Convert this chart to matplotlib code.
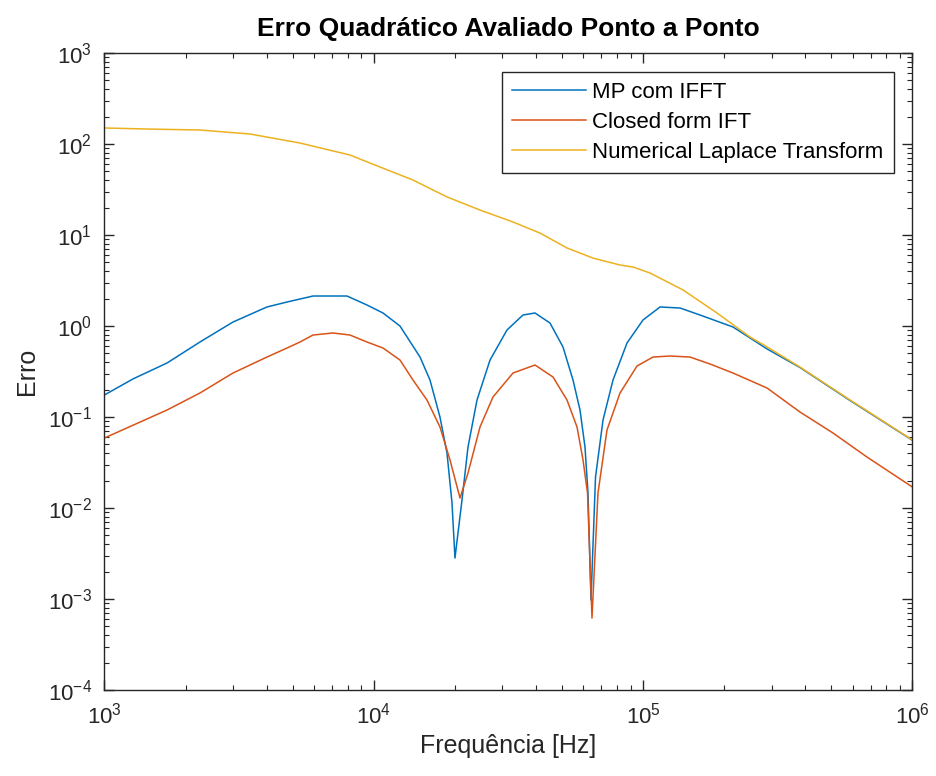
import matplotlib
matplotlib.use("Agg")
import matplotlib.pyplot as plt
from matplotlib.ticker import LogLocator, FixedLocator, NullFormatter

plt.rcParams['font.family'] = ['Liberation Sans', 'DejaVu Sans']
plt.rcParams['mathtext.default'] = 'regular'

# ---- data ----
freq_mp = [1000, 1276, 1707, 2262, 3001, 4012, 4762, 5948, 7953, 9437, 10820, 12510,
           14850, 16170, 17610, 18700, 19520, 20020, 21260, 22380, 24170, 27020,
           31230, 35810, 39690, 45110, 50420, 54920, 58310, 60850, 62430, 64050,
           66580, 70990, 77320, 87140, 99910, 115600, 137100, 162700, 215700,
           288500, 382400, 586500, 1000000]
err_mp = [0.1746, 0.262, 0.392, 0.667, 1.106, 1.618, 1.835, 2.136, 2.136, 1.701, 1.390,
          1.0, 0.456, 0.255, 0.1, 0.0402, 0.01135, 0.00282, 0.01225, 0.0468, 0.1537,
          0.423, 0.904, 1.321, 1.390, 1.079, 0.588, 0.255, 0.1194, 0.0468, 0.01462,
          0.000975, 0.0219, 0.0927, 0.255, 0.650, 1.164, 1.618, 1.577, 1.321, 0.975,
          0.56, 0.350, 0.152, 0.0555]

freq_cf = [1000, 1707, 2262, 3001, 4012, 4762, 5321, 5948, 7056, 8157, 9437, 10820,
           12510, 13980, 15760, 17610, 19190, 20900, 22380, 24800, 27710, 32880,
           39690, 46280, 52170, 56840, 59830, 62180, 64600, 68000, 73440, 82090,
           94930, 108800, 125900, 149400, 177200, 215700, 288500, 382400, 507200,
           678400, 1000000]
err_cf = [0.0588, 0.1194, 0.1835, 0.3044, 0.456, 0.573, 0.667, 0.796, 0.838, 0.796,
          0.667, 0.573, 0.423, 0.255, 0.1537, 0.0777, 0.0337, 0.01288, 0.02424,
          0.0777, 0.1659, 0.3044, 0.3728, 0.2752, 0.1537, 0.0777, 0.0337, 0.01462,
          0.000618, 0.01462, 0.0720, 0.1835, 0.3634, 0.456, 0.468, 0.456, 0.3824,
          0.3044, 0.2083, 0.1135, 0.0667, 0.0363, 0.0170]

freq_nlt = [1000, 1439, 2262, 3470, 5321, 8157, 10540, 13980, 18700, 24800, 32880,
            41420, 52170, 65160, 82090, 91730, 106100, 140700, 188100, 249500,
            288500, 382400, 586500, 1000000]
err_nlt = [150, 146, 142.5, 128.8, 102.5, 75.7, 55.9, 40.2, 26.2, 18.8, 13.9,
           10.5, 7.2, 5.58, 4.68, 4.45, 3.82, 2.49, 1.39, 0.757,
           0.59, 0.354, 0.154, 0.0559]

labels = ['MP com IFFT', 'Closed form IFT', 'Numerical Laplace Transform']
colors = ['#0072BD', '#D95319', '#EDB120']

x_ticks = [1e3, 1e4, 1e5, 1e6]
x_ticklabels = ['$10^{3}$', '$10^{4}$', '$10^{5}$', '$10^{6}$']
y_ticks = [1e-4, 1e-3, 1e-2, 1e-1, 1e0, 1e1, 1e2, 1e3]
y_ticklabels = ['$10^{-4}$', '$10^{-3}$', '$10^{-2}$', '$10^{-1}$',
                '$10^{0}$', '$10^{1}$', '$10^{2}$', '$10^{3}$']

fig = plt.figure(figsize=(9.36, 7.76), dpi=100)
ax = fig.add_axes([0.1116, 0.1108, 0.8632, 0.8209])

ax.plot(freq_mp, err_mp, color=colors[0], lw=1.1, label=labels[0])
ax.plot(freq_cf, err_cf, color=colors[1], lw=1.1, label=labels[1])
ax.plot(freq_nlt, err_nlt, color=colors[2], lw=1.1, label=labels[2])

ax.set_xscale('log')
ax.set_yscale('log')
ax.set_xlim(1e3, 1e6)
ax.set_ylim(1e-4, 1e3)

ax.xaxis.set_major_locator(FixedLocator(x_ticks))
ax.set_xticklabels(x_ticklabels)
ax.yaxis.set_major_locator(FixedLocator(y_ticks))
ax.set_yticklabels(y_ticklabels)
ax.xaxis.set_minor_locator(LogLocator(base=10, subs=range(2, 10), numticks=20))
ax.yaxis.set_minor_locator(LogLocator(base=10, subs=range(2, 10), numticks=20))
ax.xaxis.set_minor_formatter(NullFormatter())
ax.yaxis.set_minor_formatter(NullFormatter())

ax.tick_params(which='both', direction='in', top=True, right=True, colors='#262626')
ax.tick_params(which='major', length=7, width=1, labelsize=16, pad=9, labelcolor='#262626')
ax.tick_params(which='minor', length=3.5, width=0.8)
for s in ax.spines.values():
    s.set_color('#262626')
    s.set_linewidth(1.0)

ax.set_xlabel('Frequência [Hz]', fontsize=18, color='#262626', labelpad=4)
ax.set_ylabel('Erro', fontsize=18, color='#262626', labelpad=6)
ax.set_title('Erro Quadrático Avaliado Ponto a Ponto', fontsize=19,
             fontweight='bold', pad=12)

leg = ax.legend(loc='upper right', fontsize=16, frameon=True, fancybox=False,
                edgecolor='#262626', framealpha=1, borderaxespad=0.85,
                handlelength=3.3, handletextpad=0.3, labelspacing=0.4,
                borderpad=0.45)
leg.get_frame().set_linewidth(1.0)

fig.savefig('out.png', dpi=100)
